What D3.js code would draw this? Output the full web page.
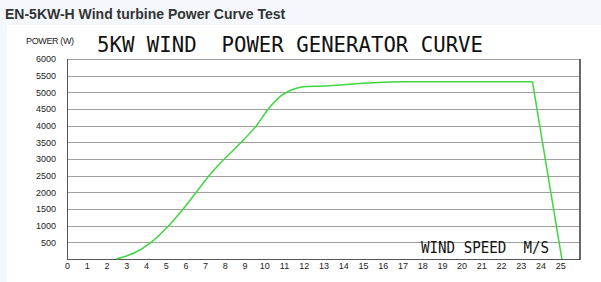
<!DOCTYPE html>
<meta charset="utf-8">
<style>
  body { margin: 0; background: #f4f7fb; }
  .heading { font-family: "Liberation Sans", Arial, sans-serif; font-weight: bold; font-size: 14px; fill: #333; }
  .big { font-family: "DejaVu Sans Mono", monospace; fill: #111; white-space: pre; }
  .tick text { font-family: "Liberation Sans", Arial, sans-serif; font-size: 9px; fill: #222; }
</style>
<body>
<script src="https://cdnjs.cloudflare.com/ajax/libs/d3/7.8.5/d3.min.js"></script>
<script>

// wind speed (m/s) and power (W)
var speed = [2.5, 3.4, 4.26, 5.15, 5.89, 6.55, 7.2, 7.97, 8.83, 9.6, 10.2, 10.86, 11.37, 11.88, 13, 14, 15, 16, 17, 18, 20, 22, 23.59, 25.08];
var power = [0, 180, 500, 1000, 1500, 2000, 2500, 3000, 3500, 4000, 4500, 4900, 5070, 5160, 5190, 5230, 5270, 5300, 5315, 5320, 5320, 5320, 5320, 0];
var xTicks = d3.range(0, 26);
var yTicks = [500, 1000, 1500, 2000, 2500, 3000, 3500, 4000, 4500, 5000, 5500, 6000];

var width = 601, height = 282;
var plotLeft = 67, plotRight = 580, plotTop = 59, plotBottom = 259;

var svg = d3.select('body').append('svg').attr('width', width).attr('height', height);

// white picture area
svg.append('rect').attr('x', 7).attr('y', 25).attr('width', width - 7).attr('height', height - 25).attr('fill', '#fff');

svg.append('text').attr('class', 'heading').attr('x', 5).attr('y', 19).text('EN-5KW-H Wind turbine Power Curve Test');

var x = d3.scaleLinear().domain([0, 26]).range([plotLeft, plotRight]);
var y = d3.scaleLinear().domain([0, 6000]).range([plotBottom, plotTop]);

// grid lines
svg.append('g').selectAll('line').data(yTicks).enter().append('line')
  .attr('x1', plotLeft).attr('x2', plotRight)
  .attr('y1', function (d) { return Math.round(y(d)) + 0.5; }).attr('y2', function (d) { return Math.round(y(d)) + 0.5; })
  .attr('stroke', '#a0a0a0').attr('stroke-width', 1);

// y axis labels
var yAxis = svg.append('g').attr('transform', 'translate(56,0)')
  .call(d3.axisLeft(y).tickValues(yTicks).tickSize(0).tickPadding(0).tickFormat(d3.format('d')));
yAxis.select('.domain').remove();

// x axis labels
var xAxis = svg.append('g').attr('transform', 'translate(0,263)')
  .call(d3.axisBottom(x).tickValues(xTicks).tickSize(0).tickPadding(0).tickFormat(d3.format('d')));
xAxis.select('.domain').remove();

// frame
svg.append('line').attr('x1', plotLeft + 0.5).attr('x2', plotLeft + 0.5).attr('y1', plotTop).attr('y2', plotBottom + 1).attr('stroke', '#555');
svg.append('line').attr('x1', plotLeft).attr('x2', plotRight).attr('y1', plotBottom + 0.5).attr('y2', plotBottom + 0.5).attr('stroke', '#555');
svg.append('line').attr('x1', plotRight).attr('x2', plotRight).attr('y1', plotTop).attr('y2', plotBottom + 1).attr('stroke', '#444').attr('stroke-width', 1.6);

// titles
svg.append('text').attr('x', 26).attr('y', 44).style('font-family', '"Liberation Sans", Arial, sans-serif')
  .style('font-size', '9px').attr('fill', '#222').attr('textLength', 48).text('POWER (W)');
svg.append('text').attr('class', 'big').attr('x', 97).attr('y', 52).style('font-size', '21px')
  .attr('textLength', 386).attr('lengthAdjust', 'spacingAndGlyphs').text('5KW WIND  POWER GENERATOR CURVE');
svg.append('text').attr('class', 'big').attr('x', 421).attr('y', 253).style('font-size', '15px')
  .attr('textLength', 128).attr('lengthAdjust', 'spacingAndGlyphs').text('WIND SPEED  M/S');

// power curve: smooth rise, straight cut-out drop
var pts = speed.map(function (s, i) { return [s, power[i]]; });
var n = pts.length;
var smooth = d3.line().x(function (d) { return x(d[0]); }).y(function (d) { return y(d[1]); }).curve(d3.curveCatmullRom.alpha(0.5));
var straight = d3.line().x(function (d) { return x(d[0]); }).y(function (d) { return y(d[1]); });

svg.append('path').attr('d', smooth(pts.slice(0, n - 1))).attr('fill', 'none').attr('stroke', '#3fd63f').attr('stroke-width', 1.5);
svg.append('path').attr('d', straight(pts.slice(n - 2))).attr('fill', 'none').attr('stroke', '#3fd63f').attr('stroke-width', 1.5);

</script>
</body>
